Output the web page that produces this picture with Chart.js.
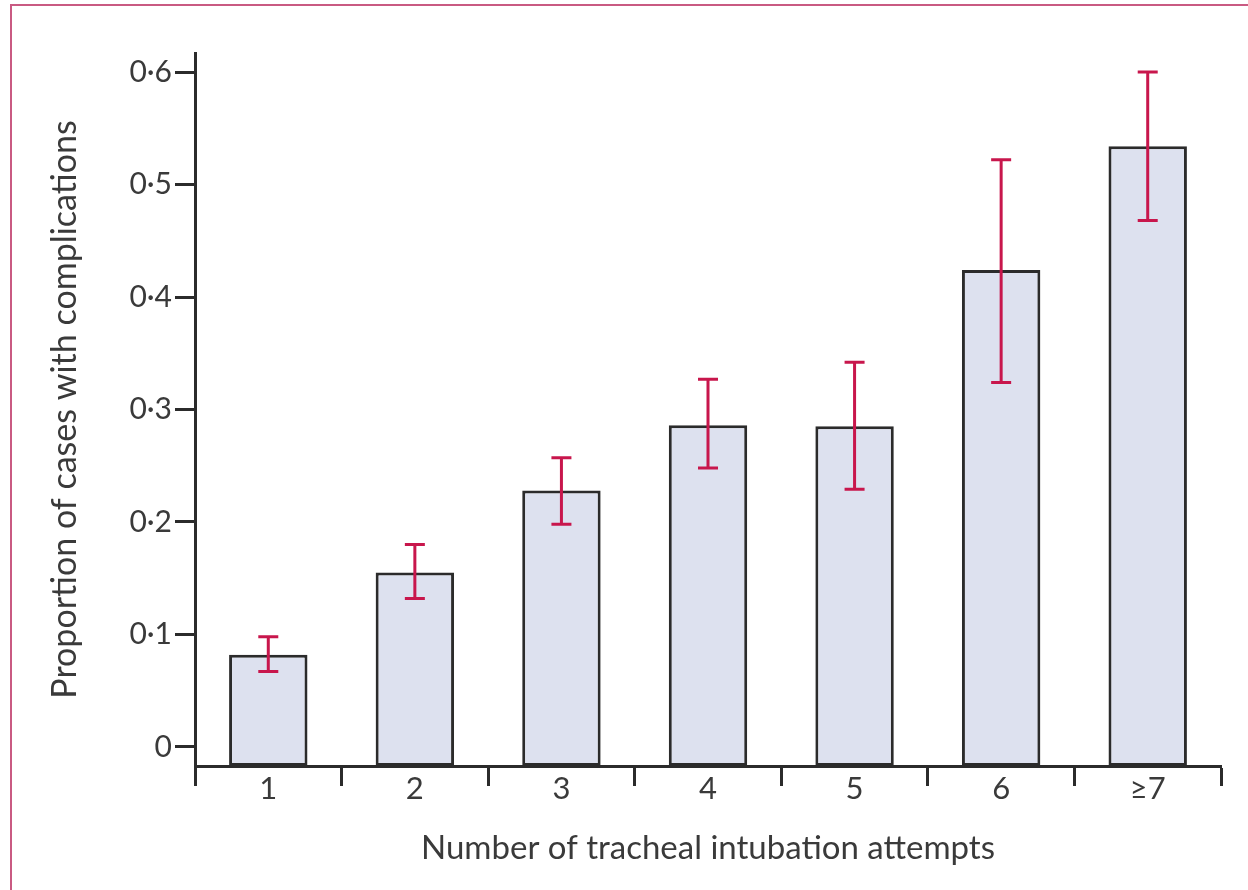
<!DOCTYPE html>
<html>
<head>
<meta charset="utf-8">
<script src="https://cdn.jsdelivr.net/npm/chart.js@4/dist/chart.umd.min.js"></script>
<style>
  body { margin: 0; background: #fff; }
  canvas { display: block; }
</style>
</head>
<body>
<canvas id="myChart" width="1248" height="890"></canvas>
<script>
// data
var attempts = ['1', '2', '3', '4', '5', '6', '\u22657'];
var proportion = [0.082, 0.155, 0.228, 0.286, 0.285, 0.424, 0.534];
var ciLower = [0.067, 0.132, 0.198, 0.248, 0.229, 0.324, 0.468];
var ciUpper = [0.098, 0.180, 0.257, 0.327, 0.342, 0.522, 0.600];
var yTicks = [0, 0.1, 0.2, 0.3, 0.4, 0.5, 0.6];

var yMin = -0.017;
var yMax = 0.617;
var textColor = '#3a3a3a';
var fontFamily = 'Lato, "Noto Sans", sans-serif';

// frame line (top and left edge of the panel)
var framePlugin = {
  id: 'frame',
  beforeDraw: function(chart) {
    var ctx = chart.ctx;
    ctx.save();
    ctx.strokeStyle = '#c95a82';
    ctx.lineWidth = 2;
    ctx.beginPath();
    ctx.moveTo(11, 890);
    ctx.lineTo(11, 5);
    ctx.lineTo(1248, 5);
    ctx.stroke();
    ctx.restore();
  }
};

// confidence interval whiskers
var errorBarPlugin = {
  id: 'errorBars',
  afterDatasetsDraw: function(chart) {
    var ctx = chart.ctx;
    var x = chart.scales.x;
    var y = chart.scales.y;
    ctx.save();
    ctx.strokeStyle = '#c8164c';
    ctx.lineWidth = 3;
    for (var i = 0; i < attempts.length; i++) {
      var px = x.getPixelForValue(i);
      var lo = y.getPixelForValue(ciLower[i]);
      var hi = y.getPixelForValue(ciUpper[i]);
      ctx.beginPath();
      ctx.moveTo(px, lo);
      ctx.lineTo(px, hi);
      ctx.moveTo(px - 10, hi);
      ctx.lineTo(px + 10, hi);
      ctx.moveTo(px - 10, lo);
      ctx.lineTo(px + 10, lo);
      ctx.stroke();
    }
    ctx.restore();
  }
};

var ctx = document.getElementById('myChart').getContext('2d');
var myChart = new Chart(ctx, {
  type: 'bar',
  data: {
    labels: attempts,
    datasets: [{
      data: proportion,
      base: yMin,
      backgroundColor: '#dde1ef',
      borderColor: '#2b2b2b',
      borderWidth: 3,
      borderSkipped: false,
      categoryPercentage: 1,
      barPercentage: 0.535
    }]
  },
  options: {
    responsive: false,
    animation: false,
    layout: { padding: { left: 0, right: 27, top: 53, bottom: 0 } },
    plugins: {
      legend: { display: false },
      tooltip: { enabled: false }
    },
    scales: {
      x: {
        offset: true,
        grid: {
          offset: true,
          drawOnChartArea: false,
          drawTicks: true,
          tickLength: 20,
          tickWidth: 3,
          tickColor: '#2b2b2b'
        },
        border: { display: true, color: '#2b2b2b', width: 3 },
        ticks: {
          color: textColor,
          font: { family: fontFamily, size: 31 },
          padding: -16,
          maxRotation: 0
        },
        title: {
          display: true,
          text: 'Number of tracheal intubation attempts',
          color: textColor,
          font: { family: fontFamily, size: 33 },
          padding: { top: 0, bottom: 22 }
        },
        afterFit: function(scale) { scale.height = 124; }
      },
      y: {
        min: yMin,
        max: yMax,
        grid: {
          drawOnChartArea: false,
          drawTicks: true,
          tickLength: 20,
          tickWidth: 3,
          tickColor: '#2b2b2b'
        },
        border: { display: true, color: '#2b2b2b', width: 3 },
        afterBuildTicks: function(scale) {
          scale.ticks = yTicks.map(function(v) { return { value: v }; });
        },
        ticks: {
          color: textColor,
          font: { family: fontFamily, size: 30 },
          padding: 3,
          callback: function(v) {
            return v === 0 ? '0' : v.toFixed(1).replace('.', '\u00b7');
          }
        },
        title: {
          display: true,
          text: 'Proportion of cases with complications',
          color: textColor,
          font: { family: fontFamily, size: 34 },
          padding: { top: 45, bottom: 0 }
        },
        afterFit: function(scale) { scale.width = 195; }
      }
    }
  },
  plugins: [framePlugin, errorBarPlugin]
});
</script>
</body>
</html>
